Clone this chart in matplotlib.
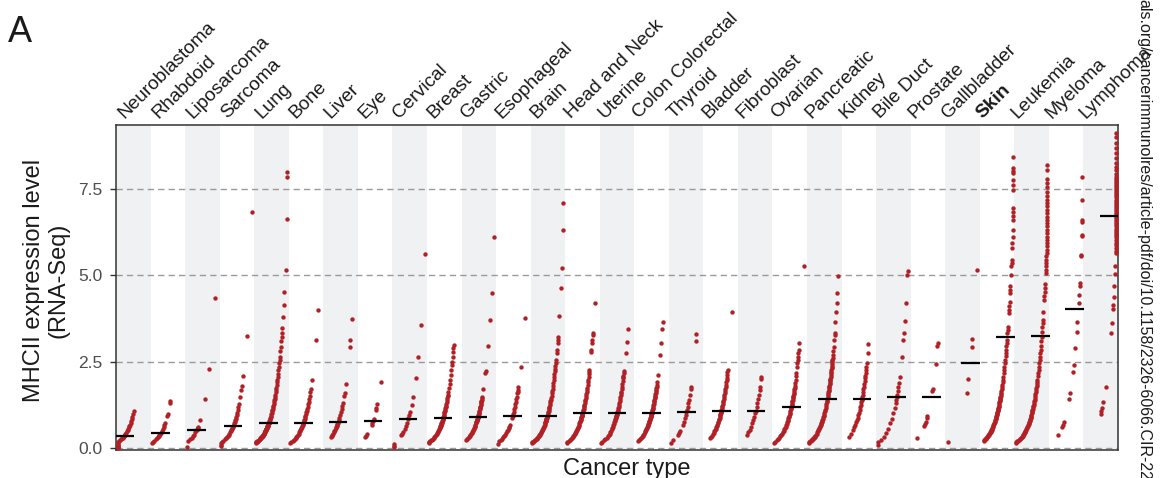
import numpy as np
import matplotlib
matplotlib.use("Agg")
import matplotlib.pyplot as plt
import matplotlib.transforms as mtransforms

plt.rcParams['font.family'] = ['Liberation Sans', 'DejaVu Sans']

categories = ['Neuroblastoma', 'Rhabdoid', 'Liposarcoma', 'Sarcoma', 'Lung', 'Bone',
              'Liver', 'Eye', 'Cervical', 'Breast', 'Gastric', 'Esophageal', 'Brain',
              'Head and Neck', 'Uterine', 'Colon Colorectal', 'Thyroid', 'Bladder',
              'Fibroblast', 'Ovarian', 'Pancreatic', 'Kidney', 'Bile Duct', 'Prostate',
              'Gallbladder', 'Skin', 'Leukemia', 'Myeloma', 'Lymphoma']

# median line per cancer type
medians = [0.35, 0.44, 0.52, 0.64, 0.73, 0.73, 0.74, 0.79, 0.83, 0.86, 0.91, 0.93, 0.94,
           1.00, 1.00, 1.00, 1.03, 1.07, 1.08, 1.20, 1.41, 1.43, 1.47, 1.49, 2.45, 3.22,
           3.25, 4.03, 6.73]

# expression values per cancer type (estimated from the figure)
neuroblastoma = [0.00, 0.02, 0.04, 0.07, 0.10, 0.13, 0.16, 0.19, 0.22, 0.25, 0.28, 0.30,
                 0.32, 0.34, 0.35, 0.35, 0.37, 0.40, 0.44, 0.48, 0.52, 0.56, 0.60, 0.64,
                 0.68, 0.73, 0.78, 0.84, 0.90, 0.98, 1.08]
rhabdoid = [0.15, 0.18, 0.21, 0.25, 0.29, 0.32, 0.35, 0.38, 0.41, 0.44, 0.50, 0.56, 0.62,
            0.68, 0.72, 0.93, 0.98, 1.30, 1.36]
liposarcoma = [0.04, 0.20, 0.25, 0.30, 0.34, 0.39, 0.45, 0.52, 0.55, 0.59, 0.62, 0.80,
               1.43, 2.28, 4.36]
sarcoma = [0.07, 0.10, 0.14, 0.18, 0.21, 0.25, 0.28, 0.32, 0.35, 0.39, 0.42, 0.45, 0.49,
           0.52, 0.55, 0.58, 0.61, 0.64, 0.68, 0.72, 0.76, 0.80, 0.85, 0.90, 0.96, 1.02,
           1.10, 1.18, 1.28, 1.47, 1.68, 1.80, 2.10, 3.26, 6.83]
lung = [0.15, 0.16, 0.17, 0.18, 0.19, 0.20, 0.21, 0.23, 0.25, 0.27, 0.28, 0.30, 0.31,
        0.33, 0.34, 0.36, 0.37, 0.38, 0.40, 0.41, 0.42, 0.44, 0.45, 0.46, 0.48, 0.49,
        0.50, 0.51, 0.53, 0.54, 0.55, 0.56, 0.57, 0.58, 0.60, 0.61, 0.62, 0.63, 0.64,
        0.65, 0.66, 0.67, 0.68, 0.69, 0.70, 0.71, 0.72, 0.73, 0.75, 0.78, 0.81, 0.84,
        0.87, 0.90, 0.94, 0.98, 1.02, 1.06, 1.10, 1.14, 1.18, 1.23, 1.28, 1.33, 1.38,
        1.43, 1.49, 1.55, 1.61, 1.68, 1.75, 1.82, 1.90, 1.98, 2.06, 2.15, 2.25, 2.35,
        2.45, 2.55, 2.65, 2.80, 2.94, 3.10, 3.23, 3.32, 3.47, 3.79, 4.14, 4.51, 5.16,
        6.63, 7.85, 7.99]
bone = [0.15, 0.18, 0.21, 0.24, 0.27, 0.30, 0.33, 0.36, 0.39, 0.42, 0.45, 0.48, 0.51,
        0.54, 0.57, 0.60, 0.64, 0.67, 0.70, 0.73, 0.77, 0.81, 0.85, 0.89, 0.93, 0.98,
        1.03, 1.08, 1.14, 1.20, 1.27, 1.34, 1.42, 1.50, 1.62, 1.72, 1.97, 3.13, 4.00]
liver = [0.33, 0.35, 0.37, 0.41, 0.45, 0.49, 0.53, 0.57, 0.60, 0.63, 0.66, 0.69, 0.72,
         0.74, 0.80, 0.88, 0.96, 1.04, 1.12, 1.22, 1.30, 1.50, 1.60, 1.85, 2.94, 3.13,
         3.73]
eye = [0.31, 0.35, 0.40, 0.66, 0.72, 0.79, 0.83, 1.10, 1.16, 1.28, 1.92]
cervical = [0.02, 0.06, 0.13, 0.38, 0.42, 0.45, 0.55, 0.65, 0.72, 0.83, 0.86, 0.95, 1.03,
            1.25, 1.47, 2.02, 2.63, 3.57, 5.61]
breast = [0.14, 0.16, 0.18, 0.20, 0.22, 0.24, 0.26, 0.29, 0.32, 0.35, 0.38, 0.41, 0.44,
          0.47, 0.50, 0.53, 0.56, 0.59, 0.61, 0.63, 0.65, 0.67, 0.69, 0.71, 0.73, 0.76,
          0.79, 0.82, 0.84, 0.86, 0.88, 0.91, 0.94, 0.97, 1.00, 1.03, 1.07, 1.11, 1.15,
          1.19, 1.23, 1.28, 1.33, 1.38, 1.44, 1.50, 1.54, 1.62, 1.73, 1.85, 1.97, 2.12,
          2.26, 2.40, 2.50, 2.65, 2.79, 2.89, 2.99]
gastric = [0.23, 0.26, 0.29, 0.32, 0.35, 0.38, 0.41, 0.44, 0.47, 0.50, 0.53, 0.56, 0.59,
           0.62, 0.65, 0.68, 0.71, 0.74, 0.76, 0.78, 0.80, 0.82, 0.85, 0.87, 0.89, 0.91,
           0.93, 0.96, 0.99, 1.02, 1.05, 1.08, 1.12, 1.16, 1.18, 1.20, 1.24, 1.28, 1.32,
           1.34, 1.36, 1.40, 1.45, 1.49, 1.70, 2.16, 2.24, 2.97, 3.71, 4.48, 6.10]
esophageal = [0.12, 0.19, 0.23, 0.27, 0.31, 0.35, 0.39, 0.43, 0.48, 0.53, 0.58, 0.62,
              0.67, 0.88, 0.93, 0.98, 1.05, 1.12, 1.20, 1.27, 1.34, 1.42, 1.49, 1.58,
              1.62, 1.68, 1.78, 2.34, 3.78]
brain = [0.15, 0.16, 0.17, 0.19, 0.21, 0.23, 0.25, 0.27, 0.29, 0.31, 0.33, 0.35, 0.37,
         0.39, 0.41, 0.44, 0.47, 0.50, 0.53, 0.56, 0.59, 0.62, 0.65, 0.68, 0.71, 0.73,
         0.75, 0.77, 0.79, 0.81, 0.83, 0.85, 0.87, 0.89, 0.91, 0.92, 0.94, 0.97, 1.00,
         1.04, 1.08, 1.12, 1.16, 1.20, 1.25, 1.30, 1.35, 1.40, 1.46, 1.52, 1.58, 1.65,
         1.72, 1.80, 1.88, 1.96, 2.05, 2.14, 2.22, 2.30, 2.38, 2.45, 2.55, 2.74, 2.84,
         3.05, 3.13, 3.23, 3.83, 4.65, 5.23, 6.32, 7.11]
head_neck = [0.14, 0.17, 0.20, 0.23, 0.26, 0.29, 0.32, 0.35, 0.38, 0.41, 0.44, 0.47,
             0.50, 0.53, 0.56, 0.59, 0.62, 0.65, 0.68, 0.71, 0.74, 0.77, 0.80, 0.83,
             0.86, 0.89, 0.92, 0.94, 0.96, 0.98, 1.00, 1.03, 1.06, 1.10, 1.14, 1.18,
             1.22, 1.26, 1.30, 1.35, 1.40, 1.45, 1.50, 1.56, 1.62, 1.68, 1.75, 1.82,
             1.90, 1.98, 2.06, 2.14, 2.20, 2.26, 2.79, 2.84, 3.03, 3.13, 3.28, 3.34, 4.19]
uterine = [0.14, 0.18, 0.22, 0.26, 0.30, 0.34, 0.38, 0.42, 0.46, 0.50, 0.54, 0.58, 0.62,
           0.66, 0.70, 0.74, 0.78, 0.81, 0.84, 0.87, 0.90, 0.92, 0.94, 0.96, 0.98, 1.00,
           1.03, 1.07, 1.11, 1.15, 1.20, 1.25, 1.30, 1.36, 1.42, 1.48, 1.55, 1.58, 1.62,
           1.70, 1.78, 1.86, 1.94, 2.02, 2.05, 2.10, 2.17, 2.24, 2.76, 3.07, 3.46]
colon = [0.21, 0.24, 0.27, 0.30, 0.33, 0.36, 0.39, 0.42, 0.45, 0.48, 0.51, 0.54, 0.57,
         0.60, 0.63, 0.66, 0.69, 0.72, 0.75, 0.78, 0.81, 0.84, 0.87, 0.90, 0.92, 0.94,
         0.96, 0.98, 1.00, 1.02, 1.05, 1.08, 1.11, 1.14, 1.17, 1.20, 1.24, 1.28, 1.32,
         1.36, 1.40, 1.44, 1.48, 1.52, 1.56, 1.60, 1.64, 1.68, 1.73, 1.78, 1.84, 1.90,
         2.12, 2.69, 3.03, 3.44, 3.65]
thyroid = [0.15, 0.22, 0.38, 0.43, 0.50, 0.66, 0.76, 0.86, 0.95, 1.03, 1.10, 1.20, 1.29,
           1.40, 1.55, 1.72, 1.76, 3.11, 3.29]
bladder = [0.28, 0.32, 0.36, 0.40, 0.44, 0.48, 0.52, 0.56, 0.60, 0.64, 0.68, 0.72, 0.76,
           0.80, 0.84, 0.88, 0.92, 0.95, 0.98, 1.01, 1.03, 1.05, 1.07, 1.10, 1.14, 1.18,
           1.22, 1.27, 1.32, 1.37, 1.42, 1.48, 1.54, 1.60, 1.66, 1.72, 1.78, 1.84, 1.90,
           1.97, 2.04, 2.12, 2.20, 2.26, 3.94]
fibroblast = [0.38, 0.45, 0.52, 0.61, 0.71, 0.81, 0.90, 1.00, 1.08, 1.20, 1.30, 1.41,
              1.54, 1.68, 1.78, 1.99, 2.05]
ovarian = [0.15, 0.18, 0.22, 0.26, 0.30, 0.34, 0.38, 0.42, 0.46, 0.50, 0.54, 0.58, 0.62,
           0.66, 0.70, 0.74, 0.78, 0.82, 0.86, 0.90, 0.94, 0.98, 1.02, 1.07, 1.12, 1.16,
           1.20, 1.24, 1.28, 1.32, 1.36, 1.40, 1.44, 1.48, 1.52, 1.56, 1.60, 1.65, 1.70,
           1.75, 1.80, 1.88, 1.96, 2.08, 2.16, 2.35, 2.45, 2.55, 2.63, 2.74, 2.84, 3.05,
           5.28]
pancreatic = [0.15, 0.17, 0.19, 0.21, 0.23, 0.25, 0.27, 0.29, 0.31, 0.33, 0.36, 0.39,
              0.42, 0.45, 0.48, 0.51, 0.54, 0.57, 0.60, 0.63, 0.66, 0.69, 0.72, 0.75,
              0.78, 0.81, 0.85, 0.89, 0.93, 0.97, 1.01, 1.06, 1.11, 1.16, 1.21, 1.27,
              1.32, 1.37, 1.41, 1.45, 1.49, 1.53, 1.57, 1.61, 1.65, 1.69, 1.73, 1.77,
              1.81, 1.85, 1.89, 1.93, 1.97, 2.01, 2.06, 2.11, 2.16, 2.21, 2.26, 2.31,
              2.36, 2.41, 2.46, 2.51, 2.55, 2.62, 2.70, 2.80, 2.94, 3.13, 3.28, 3.32,
              3.65, 3.94, 4.21, 4.50, 4.97]
kidney = [0.33, 0.42, 0.52, 0.60, 0.67, 0.74, 0.81, 0.88, 0.95, 1.02, 1.10, 1.18, 1.26,
          1.33, 1.39, 1.43, 1.48, 1.55, 1.62, 1.70, 1.78, 1.86, 1.94, 2.02, 2.10, 2.18,
          2.26, 2.36, 2.46, 2.74, 3.01]
bile_duct = [0.09, 0.16, 0.23, 0.33, 0.43, 0.55, 0.71, 0.85, 1.00, 1.15, 1.29, 1.38,
             1.47, 1.55, 1.65, 1.78, 1.87, 2.07, 2.65, 3.13, 3.32, 3.68, 4.21, 5.01, 5.14]
prostate = [0.28, 0.64, 0.70, 0.76, 0.86, 0.93, 1.66, 1.72, 2.43, 2.96, 3.03]
gallbladder = [0.18, 1.60, 1.99, 2.92, 3.17, 5.16]
skin = [0.21, 0.23, 0.25, 0.27, 0.29, 0.31, 0.33, 0.35, 0.37, 0.39, 0.41, 0.43, 0.45,
        0.47, 0.49, 0.51, 0.53, 0.55, 0.57, 0.60, 0.63, 0.66, 0.69, 0.72, 0.75, 0.78,
        0.81, 0.84, 0.87, 0.90, 0.93, 0.96, 0.99, 1.02, 1.05, 1.08, 1.11, 1.14, 1.17,
        1.20, 1.23, 1.26, 1.29, 1.32, 1.35, 1.38, 1.41, 1.44, 1.48, 1.52, 1.56, 1.60,
        1.65, 1.70, 1.76, 1.82, 1.90, 1.97, 2.06, 2.16, 2.26, 2.36, 2.46, 2.55, 2.66,
        2.74, 2.85, 2.95, 3.05, 3.13, 3.32, 3.42, 3.52, 3.90, 4.00, 4.12, 4.24, 4.48,
        4.58, 4.68, 5.01, 5.26, 5.36, 5.45, 5.80, 5.95, 6.10, 6.32, 6.60, 6.72, 6.85,
        6.95, 7.48, 7.62, 7.77, 7.96, 8.04, 8.10, 8.44]
leukemia = [0.15, 0.17, 0.19, 0.21, 0.23, 0.25, 0.27, 0.29, 0.31, 0.33, 0.35, 0.37, 0.39,
            0.41, 0.43, 0.45, 0.47, 0.49, 0.52, 0.55, 0.58, 0.61, 0.64, 0.67, 0.70, 0.73,
            0.76, 0.79, 0.82, 0.85, 0.88, 0.91, 0.94, 0.97, 1.00, 1.03, 1.06, 1.10, 1.14,
            1.18, 1.22, 1.26, 1.30, 1.35, 1.40, 1.45, 1.50, 1.56, 1.62, 1.68, 1.74, 1.80,
            1.86, 1.92, 1.97, 2.08, 2.16, 2.26, 2.36, 2.46, 2.55, 2.64, 2.74, 2.84, 2.95,
            3.10, 3.23, 3.36, 3.52, 3.62, 3.71, 3.95, 4.29, 4.40, 4.52, 4.63, 4.75, 5.06,
            5.16, 5.26, 5.36, 5.45, 5.55, 5.65, 5.74, 5.84, 5.94, 6.03, 6.12, 6.22, 6.32,
            6.42, 6.52, 6.60, 6.70, 6.80, 6.90, 7.00, 7.10, 7.19, 7.30, 7.43, 7.55, 7.67,
            7.80, 8.06, 8.20]
myeloma = [0.38, 0.60, 0.67, 0.76, 1.41, 1.60, 2.19, 2.41, 2.89, 3.37, 3.66, 4.21, 4.43,
           4.68, 4.79, 5.55, 5.60, 6.13, 6.18, 6.55, 6.62, 7.19, 7.86]
lymphoma = [0.99, 1.07, 1.16, 1.34, 1.78, 3.32, 3.61, 4.02, 4.14, 4.39, 4.68, 5.04, 5.28,
            5.64, 5.72, 5.80, 5.88, 5.95, 6.02, 6.10, 6.17, 6.24, 6.30, 6.36, 6.42, 6.48,
            6.54, 6.60, 6.66, 6.72, 6.78, 6.84, 6.90, 6.96, 7.02, 7.08, 7.14, 7.20, 7.26,
            7.32, 7.38, 7.44, 7.50, 7.56, 7.62, 7.68, 7.74, 7.80, 7.86, 7.95, 8.05, 8.15,
            8.25, 8.40, 8.55, 8.70, 8.85, 9.00, 9.12]

series = [neuroblastoma, rhabdoid, liposarcoma, sarcoma, lung, bone, liver, eye, cervical,
          breast, gastric, esophageal, brain, head_neck, uterine, colon, thyroid, bladder,
          fibroblast, ovarian, pancreatic, kidney, bile_duct, prostate, gallbladder, skin,
          leukemia, myeloma, lymphoma]

yticks = [0.0, 2.5, 5.0, 7.5]

DOT = '#b22025'
BAND = '#f0f1f3'


def x_offset(v):
    # points drift right with log of the value, kept inside the column
    return np.clip(0.25 * np.log(np.maximum(np.asarray(v, float), 1e-3)), -0.45, 0.45)


fig = plt.figure(figsize=(11.73, 4.78), dpi=100)
ax = fig.add_axes([116 / 1173, 1 - 450 / 478, 1002 / 1173, 325 / 478])

n = len(categories)
for i in range(0, n, 2):
    ax.axvspan(i - 0.5, i + 0.5, color=BAND, lw=0, zorder=0)

for y in yticks:
    ax.axhline(y, color='#9a9a9a', lw=1.0, ls=(0, (4.5, 3)), zorder=1)

for i, vals in enumerate(series):
    vals = np.sort(vals)
    ax.scatter(i + x_offset(vals), vals, s=10, color=DOT, lw=0, zorder=3)
    c = i + min(float(x_offset(medians[i])), 0.25)
    ax.plot([c - 0.27, c + 0.27], [medians[i], medians[i]], color='black', lw=1.6,
            solid_capstyle='butt', zorder=4)

ax.set_xlim(-0.5, n - 0.5)
ax.set_ylim(-0.058, 9.36)
ax.set_xticks([])
ax.set_yticks(yticks)
ax.set_yticklabels(['%.1f' % t for t in yticks])
ax.tick_params(axis='y', length=4, width=1, color='#333333', pad=6,
               labelsize=12.5, labelcolor='#4d4d4d')
for sp in ax.spines.values():
    sp.set_color('#333333')
    sp.set_linewidth(1.1)

# category names along the top
trans = mtransforms.blended_transform_factory(ax.transData, ax.transAxes)
for i, name in enumerate(categories):
    ax.text(-0.27 + 0.9943 * i, 1.018, name, transform=trans, rotation=45,
            rotation_mode='anchor', ha='left', va='baseline', fontsize=13.8,
            color='#1a1a1a', fontweight='bold' if name == 'Skin' else 'normal',
            clip_on=False)

fig.text(46 / 1173, 1 - 280 / 478, 'MHCII expression level\n(RNA-Seq)', rotation=90,
         ha='center', va='center', multialignment='center', fontsize=17,
         color='#1a1a1a', linespacing=1.15)
fig.text(627 / 1173, 3 / 478, 'Cancer type', ha='center', va='baseline', fontsize=17,
         color='#1a1a1a')
fig.text(8 / 1173, 1 - 42 / 478, 'A', ha='left', va='baseline', fontsize=26,
         color='#1a1a1a')
fig.text(1144 / 1173, 0.5, 'als.org/cancerimmunolres/article-pdf/doi/10.1158/2326-6066.CIR-22',
         rotation=270, ha='center', va='center', fontsize=11.5, color='#1a1a1a')

fig.savefig('out.png', dpi=100)
